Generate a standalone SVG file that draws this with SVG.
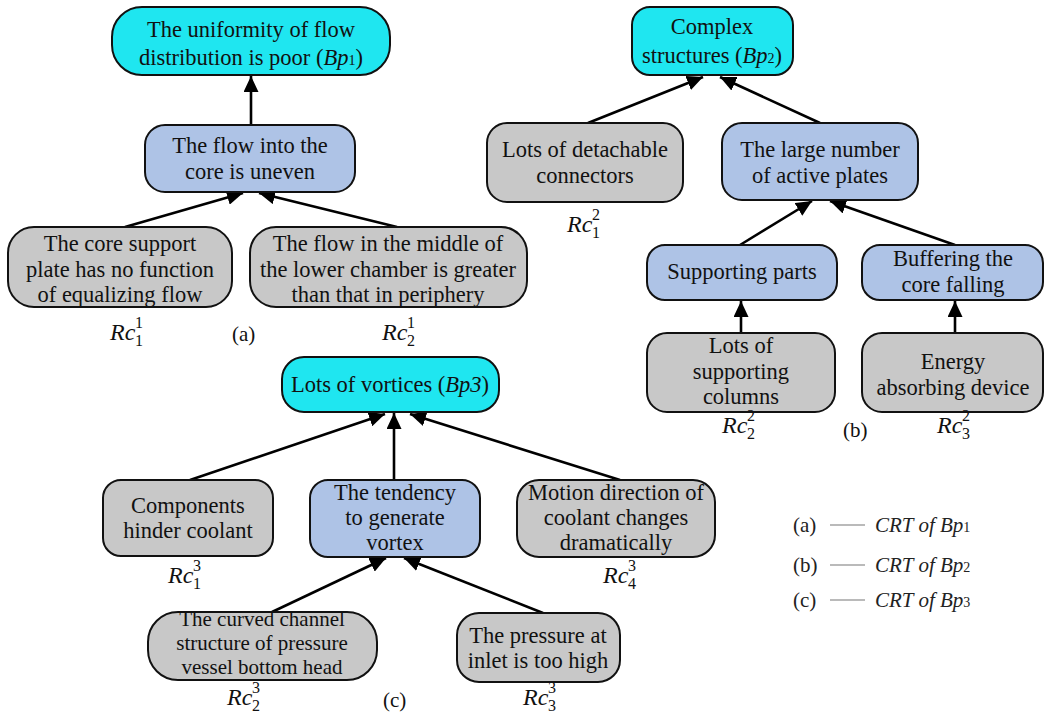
<svg xmlns="http://www.w3.org/2000/svg" width="1044" height="715" viewBox="0 0 1044 715">
  <defs>
    <marker id="arrow" markerUnits="userSpaceOnUse" markerWidth="17" markerHeight="15" refX="16" refY="7.5" orient="auto">
      <path d="M0,0 L16,7.5 L0,15 z" fill="#000"/>
    </marker>
    <style>
      .box { stroke: #111; stroke-width: 2; }
      .top { fill: #1fe6f0; }
      .mid { fill: #aec3e6; }
      .leaf { fill: #c8c8c8; }
      .t { font-family: "Liberation Serif", "Times New Roman", serif; font-size: 22.5px; fill: #111; text-anchor: middle; }
      .tight { font-size: 21px; }
      .it { font-style: italic; }
      .sub { font-size: 14px; font-style: normal; }
      .rc { font-family: "Liberation Serif", "Times New Roman", serif; font-size: 24px; font-style: italic; fill: #111; }
      .idx { font-family: "Liberation Serif", "Times New Roman", serif; font-size: 16px; fill: #111; }
      .cap { font-family: "Liberation Serif", "Times New Roman", serif; font-size: 21px; fill: #111; }
      .leg { font-family: "Liberation Serif", "Times New Roman", serif; font-size: 21px; fill: #222; }
      .edge { stroke: #000; stroke-width: 2.6; fill: none; marker-end: url(#arrow); }
    </style>
  </defs>

  <rect width="1044" height="715" fill="#fff"/>

  <!-- connectors -->
  <g id="connectors">
    <line class="edge" x1="251" y1="125" x2="251" y2="76"/>
    <line class="edge" x1="125" y1="227" x2="243" y2="193"/>
    <line class="edge" x1="397" y1="227" x2="259" y2="193"/>

    <line class="edge" x1="588" y1="123" x2="703" y2="77"/>
    <line class="edge" x1="820" y1="123" x2="720" y2="77"/>
    <line class="edge" x1="740" y1="245" x2="812" y2="201"/>
    <line class="edge" x1="955" y1="245" x2="830" y2="201"/>
    <line class="edge" x1="741" y1="333" x2="741" y2="301"/>
    <line class="edge" x1="955" y1="333" x2="955" y2="301"/>

    <line class="edge" x1="190" y1="480" x2="385" y2="414"/>
    <line class="edge" x1="394" y1="480" x2="394" y2="413"/>
    <line class="edge" x1="620" y1="480" x2="410" y2="414"/>
    <line class="edge" x1="272" y1="612" x2="386" y2="558"/>
    <line class="edge" x1="543" y1="613" x2="404" y2="558"/>
  </g>

  <!-- panel (a) -->
  <g id="bp1">
    <rect class="box top" x="112" y="7" width="278" height="68" rx="30"/>
    <text class="t" x="251" y="37">The uniformity of flow</text>
    <text class="t" x="251" y="65">distribution is poor (<tspan class="it">Bp</tspan><tspan class="sub">1</tspan>)</text>
  </g>
  <g id="flow-uneven">
    <rect class="box mid" x="145" y="125" width="210" height="67" rx="20"/>
    <text class="t" x="250" y="153">The flow into the</text>
    <text class="t" x="250" y="179">core is uneven</text>
  </g>
  <g id="rc1-1">
    <rect class="box leaf" x="8" y="227" width="224" height="80" rx="26"/>
    <text class="t" x="120" y="251">The core support</text>
    <text class="t" x="120" y="277">plate has no function</text>
    <text class="t" x="120" y="302">of equalizing flow</text>
  </g>
  <g id="rc2-1">
    <rect class="box leaf" x="250" y="227" width="277" height="80" rx="26"/>
    <text class="t" x="388" y="251">The flow in the middle of</text>
    <text class="t" x="388" y="277">the lower chamber is greater</text>
    <text class="t" x="388" y="302">than that in periphery</text>
  </g>
  <g id="labels-a">
    <text class="rc" x="110" y="340">Rc</text>
    <text class="idx" x="135" y="328">1</text>
    <text class="idx" x="135" y="346">1</text>
    <text class="cap" x="232" y="341">(a)</text>
    <text class="rc" x="382" y="340">Rc</text>
    <text class="idx" x="407" y="328">1</text>
    <text class="idx" x="407" y="346">2</text>
  </g>

  <!-- panel (b) -->
  <g id="bp2">
    <rect class="box top" x="632" y="7" width="161" height="68" rx="18"/>
    <text class="t" x="712" y="34">Complex</text>
    <text class="t" x="712" y="63">structures  (<tspan class="it">Bp</tspan><tspan class="sub">2</tspan>)</text>
  </g>
  <g id="rc1-2">
    <rect class="box leaf" x="487" y="123" width="196" height="79" rx="20"/>
    <text class="t" x="585" y="157">Lots of detachable</text>
    <text class="t" x="585" y="183">connectors</text>
  </g>
  <g id="active-plates">
    <rect class="box mid" x="722" y="123" width="196" height="77" rx="20"/>
    <text class="t" x="820" y="157">The large number</text>
    <text class="t" x="820" y="183">of active plates</text>
  </g>
  <g id="supporting-parts">
    <rect class="box mid" x="647" y="245" width="190" height="55" rx="18"/>
    <text class="t" x="742" y="279">Supporting parts</text>
  </g>
  <g id="buffering">
    <rect class="box mid" x="862" y="245" width="181" height="55" rx="18"/>
    <text class="t" x="953" y="266">Buffering the</text>
    <text class="t" x="953" y="292">core falling</text>
  </g>
  <g id="rc2-2">
    <rect class="box leaf" x="647" y="333" width="188" height="79" rx="20"/>
    <text class="t" x="741" y="353">Lots of</text>
    <text class="t" x="741" y="379">supporting</text>
    <text class="t" x="741" y="404">columns</text>
  </g>
  <g id="rc3-2">
    <rect class="box leaf" x="862" y="333" width="181" height="79" rx="20"/>
    <text class="t" x="953" y="369">Energy</text>
    <text class="t" x="953" y="395">absorbing device</text>
  </g>
  <g id="labels-b">
    <text class="rc" x="567" y="232">Rc</text>
    <text class="idx" x="592" y="220">2</text>
    <text class="idx" x="592" y="238">1</text>
    <text class="rc" x="722" y="433">Rc</text>
    <text class="idx" x="747" y="421">2</text>
    <text class="idx" x="747" y="439">2</text>
    <text class="cap" x="843" y="437">(b)</text>
    <text class="rc" x="937" y="433">Rc</text>
    <text class="idx" x="962" y="421">2</text>
    <text class="idx" x="962" y="439">3</text>
  </g>

  <!-- panel (c) -->
  <g id="bp3">
    <rect class="box top" x="282" y="357" width="217" height="55" rx="22"/>
    <text class="t" x="390" y="392">Lots of vortices  (<tspan class="it">Bp3</tspan>)</text>
  </g>
  <g id="rc1-3">
    <rect class="box leaf" x="103" y="480" width="170" height="76" rx="18"/>
    <text class="t" x="188" y="513">Components</text>
    <text class="t" x="188" y="538">hinder coolant</text>
  </g>
  <g id="vortex-tendency">
    <rect class="box mid" x="310" y="480" width="170" height="77" rx="18"/>
    <text class="t" x="395" y="500">The tendency</text>
    <text class="t" x="395" y="525">to generate</text>
    <text class="t" x="395" y="550">vortex</text>
  </g>
  <g id="rc4-3">
    <rect class="box leaf" x="517" y="480" width="198" height="77" rx="22"/>
    <text class="t" x="616" y="500">Motion direction of</text>
    <text class="t" x="616" y="525">coolant changes</text>
    <text class="t" x="616" y="550">dramatically</text>
  </g>
  <g id="rc2-3">
    <rect class="box leaf" x="148" y="612" width="229" height="68" rx="30"/>
    <text class="t tight" x="262" y="626">The curved channel</text>
    <text class="t tight" x="262" y="650">structure of pressure</text>
    <text class="t tight" x="262" y="674">vessel bottom head</text>
  </g>
  <g id="rc3-3">
    <rect class="box leaf" x="457" y="613" width="163" height="69" rx="22"/>
    <text class="t" x="538" y="643">The pressure at</text>
    <text class="t" x="538" y="668">inlet is too high</text>
  </g>
  <g id="labels-c">
    <text class="rc" x="168" y="583">Rc</text>
    <text class="idx" x="193" y="571">3</text>
    <text class="idx" x="193" y="589">1</text>
    <text class="rc" x="603" y="583">Rc</text>
    <text class="idx" x="628" y="571">3</text>
    <text class="idx" x="628" y="589">4</text>
    <text class="rc" x="227" y="705">Rc</text>
    <text class="idx" x="252" y="693">3</text>
    <text class="idx" x="252" y="711">2</text>
    <text class="cap" x="383" y="707">(c)</text>
    <text class="rc" x="523" y="705">Rc</text>
    <text class="idx" x="548" y="693">3</text>
    <text class="idx" x="548" y="711">3</text>
  </g>

  <!-- legend -->
  <g id="legend">
    <text class="leg" x="793" y="532">(a)</text>
    <line x1="830" y1="525" x2="865" y2="525" stroke="#777" stroke-width="1.2"/>
    <text class="leg it" x="875" y="532">CRT of Bp<tspan class="sub">1</tspan></text>
    <text class="leg" x="793" y="572">(b)</text>
    <line x1="830" y1="565" x2="865" y2="565" stroke="#777" stroke-width="1.2"/>
    <text class="leg it" x="875" y="572">CRT of Bp<tspan class="sub">2</tspan></text>
    <text class="leg" x="793" y="607">(c)</text>
    <line x1="830" y1="600" x2="865" y2="600" stroke="#777" stroke-width="1.2"/>
    <text class="leg it" x="875" y="607">CRT of Bp<tspan class="sub">3</tspan></text>
  </g>
</svg>
